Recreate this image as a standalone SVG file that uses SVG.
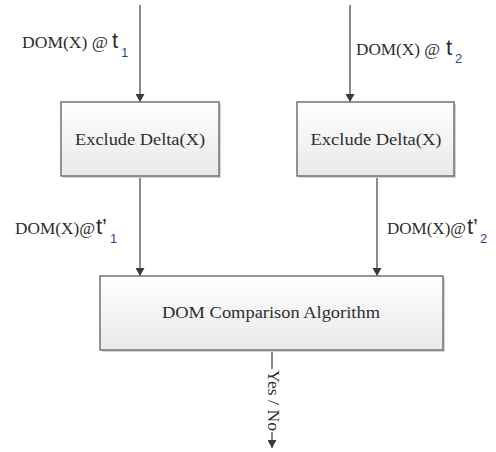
<svg xmlns="http://www.w3.org/2000/svg" width="496" height="452" viewBox="0 0 496 452">
  <defs>
    <linearGradient id="boxfill" x1="0" y1="0" x2="0" y2="1">
      <stop offset="0" stop-color="#ffffff"/>
      <stop offset="1" stop-color="#e9e9e9"/>
    </linearGradient>
    <marker id="arrow" markerWidth="8" markerHeight="9" refX="8" refY="4.5" orient="auto" markerUnits="userSpaceOnUse">
      <path d="M0,0 L8,4.5 L0,9 Z" fill="#3a3a3a"/>
    </marker>
    <style>
      .box { fill: url(#boxfill); stroke: #7a7a7a; stroke-width: 1.6; }
      .shadow { fill: #d4d4d4; }
      .conn { stroke: #5a5a5a; stroke-width: 1.4; fill: none; }
      .serif { font-family: "Liberation Serif", "Times New Roman", serif; fill: #2e2e2e; }
      .lbl { font-size: 16px; }
      .tt { font-family: "Liberation Sans", Arial, sans-serif; font-size: 22px; fill: #2e2e2e; }
      .sub { font-family: "Liberation Sans", Arial, sans-serif; font-size: 13px; fill: #1f4e8c; }
      .node { font-size: 16px; text-anchor: middle; }
    </style>
  </defs>

  <g id="connectors">
    <line class="conn" x1="140" y1="5" x2="140" y2="102" marker-end="url(#arrow)"/>
    <line class="conn" x1="350" y1="5" x2="350" y2="102" marker-end="url(#arrow)"/>
    <line class="conn" x1="140" y1="176" x2="140" y2="276" marker-end="url(#arrow)"/>
    <line class="conn" x1="377" y1="176" x2="377" y2="276" marker-end="url(#arrow)"/>
    <line class="conn" x1="272" y1="350" x2="272" y2="369"/>
    <line class="conn" x1="272" y1="432" x2="272" y2="448" marker-end="url(#arrow)"/>
    <text class="serif" font-size="16" transform="translate(268,370) rotate(90)" textLength="61" lengthAdjust="spacingAndGlyphs">Yes / No</text>
  </g>

  <g id="label-t1">
    <text class="serif lbl" x="22" y="48" textLength="86" lengthAdjust="spacingAndGlyphs">DOM(X) @</text>
    <text class="tt" x="112" y="48">t</text>
    <text class="sub" x="121" y="57">1</text>
  </g>
  <g id="label-t2">
    <text class="serif lbl" x="356" y="55" textLength="84" lengthAdjust="spacingAndGlyphs">DOM(X) @</text>
    <text class="tt" x="446" y="55">t</text>
    <text class="sub" x="455" y="63">2</text>
  </g>
  <g id="label-t1p">
    <text class="serif lbl" x="15" y="234" textLength="80" lengthAdjust="spacingAndGlyphs">DOM(X)@</text>
    <text class="tt" x="96" y="234">t’</text>
    <text class="sub" x="110" y="243">1</text>
  </g>
  <g id="label-t2p">
    <text class="serif lbl" x="387" y="234" textLength="79" lengthAdjust="spacingAndGlyphs">DOM(X)@</text>
    <text class="tt" x="467" y="234">t’</text>
    <text class="sub" x="480" y="243">2</text>
  </g>

  <g id="exclude-left">
    <rect class="shadow" x="63" y="104" width="158" height="74"/>
    <rect class="box" x="61" y="102" width="158" height="74"/>
    <text class="serif node" x="140" y="145" textLength="130" lengthAdjust="spacingAndGlyphs">Exclude Delta(X)</text>
  </g>
  <g id="exclude-right">
    <rect class="shadow" x="299" y="104" width="157" height="74"/>
    <rect class="box" x="297" y="102" width="157" height="74"/>
    <text class="serif node" x="376" y="145" textLength="131" lengthAdjust="spacingAndGlyphs">Exclude Delta(X)</text>
  </g>
  <g id="dom-comparison">
    <rect class="shadow" x="102" y="278" width="343" height="74"/>
    <rect class="box" x="100" y="276" width="343" height="74"/>
    <text class="serif node" x="271" y="318" textLength="218" lengthAdjust="spacingAndGlyphs">DOM Comparison Algorithm</text>
  </g>
</svg>
